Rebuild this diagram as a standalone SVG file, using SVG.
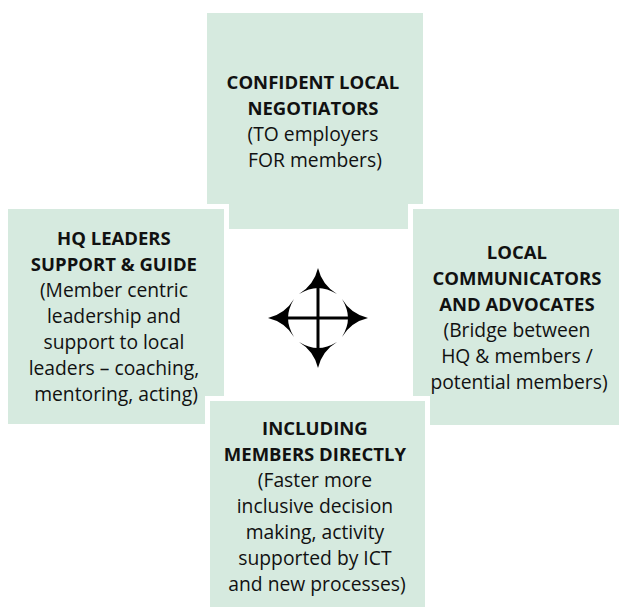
<svg xmlns="http://www.w3.org/2000/svg" width="619" height="610" viewBox="0 0 619 610">
  <style>
    .box { fill: #d6eadf; stroke: #ffffff; stroke-width: 10; paint-order: stroke; }
    .label { font-family: "Open Sans", "Noto Sans", "Liberation Sans", sans-serif; fill: #111111; text-anchor: middle; }
    .head { font-weight: bold; font-size: 18.5px; }
    .body { font-weight: normal; font-size: 19.3px; }
    .shaft { stroke: #000000; stroke-width: 3; fill: none; }
  </style>
  <defs>
    <!-- one concave-sided arrowhead pointing up, tip at the origin -->
    <path id="tip" d="M 0,0 Q 4,17 19,26 Q 9,20 0,20 Q -9,20 -19,26 Q -4,17 0,0 Z" fill="#000000"/>
  </defs>

  <!-- upper quadrant is drawn first; side and lower quadrants sit over it with a white margin -->
  <g id="negotiators">
    <rect class="box" x="207" y="13" width="216" height="216" stroke-width="0"/>
    <text class="label">
      <tspan class="head" x="315" y="89">CONFIDENT LOCAL</tspan>
      <tspan class="head" x="315" y="115">NEGOTIATORS</tspan>
      <tspan class="body" x="315" y="141">(TO employers</tspan>
      <tspan class="body" x="315" y="167">FOR members)</tspan>
    </text>
  </g>

  <g id="hq-leaders">
    <rect class="box" x="8" y="209" width="216" height="215"/>
    <text class="label">
      <tspan class="head" x="116" y="245">HQ LEADERS</tspan>
      <tspan class="head" x="116" y="271">SUPPORT &amp; GUIDE</tspan>
      <tspan class="body" x="116" y="297">(Member centric</tspan>
      <tspan class="body" x="116" y="323">leadership and</tspan>
      <tspan class="body" x="116" y="349">support to local</tspan>
      <tspan class="body" x="116" y="375">leaders – coaching,</tspan>
      <tspan class="body" x="116" y="401">mentoring, acting)</tspan>
    </text>
  </g>

  <g id="communicators">
    <rect class="box" x="413" y="209" width="216" height="216"/>
    <text class="label">
      <tspan class="head" x="519" y="259">LOCAL</tspan>
      <tspan class="head" x="519" y="285">COMMUNICATORS</tspan>
      <tspan class="head" x="519" y="311">AND ADVOCATES</tspan>
      <tspan class="body" x="519" y="337">(Bridge between</tspan>
      <tspan class="body" x="519" y="363">HQ &amp; members /</tspan>
      <tspan class="body" x="519" y="389">potential members)</tspan>
    </text>
  </g>

  <g id="members">
    <rect class="box" x="210" y="401" width="215" height="206"/>
    <text class="label">
      <tspan class="head" x="317" y="435">INCLUDING</tspan>
      <tspan class="head" x="317" y="461">MEMBERS DIRECTLY</tspan>
      <tspan class="body" x="317" y="487">(Faster more</tspan>
      <tspan class="body" x="317" y="513">inclusive decision</tspan>
      <tspan class="body" x="317" y="539">making, activity</tspan>
      <tspan class="body" x="317" y="565">supported by ICT</tspan>
      <tspan class="body" x="317" y="591">and new processes)</tspan>
    </text>
  </g>

  <!-- four-way arrow in the middle -->
  <g id="connectors" transform="translate(318 318)">
    <line class="shaft" x1="0" y1="-32" x2="0" y2="32"/>
    <line class="shaft" x1="-32" y1="0" x2="32" y2="0"/>
    <use href="#tip" transform="translate(0 -50)"/>
    <use href="#tip" transform="rotate(90) translate(0 -50)"/>
    <use href="#tip" transform="rotate(180) translate(0 -50)"/>
    <use href="#tip" transform="rotate(270) translate(0 -50)"/>
  </g>
</svg>
